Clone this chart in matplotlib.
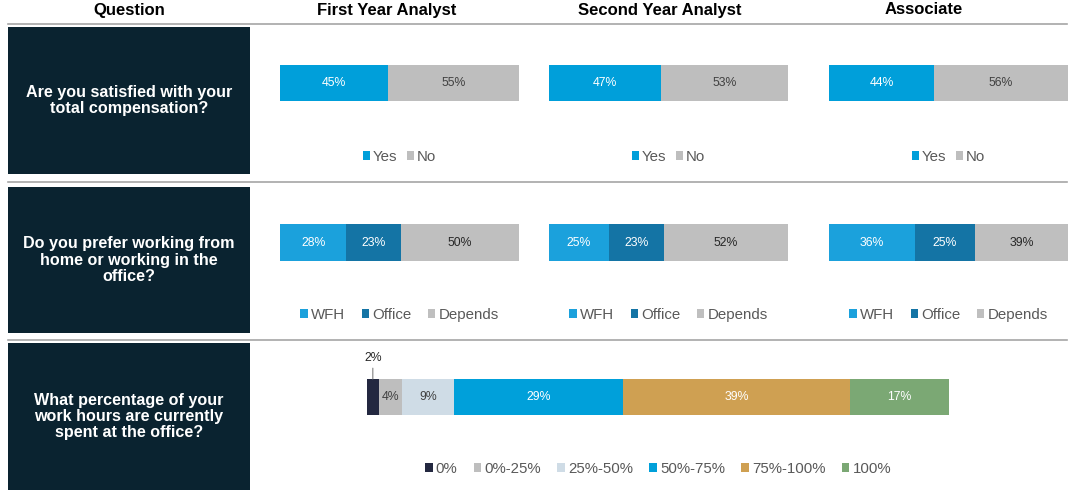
import matplotlib
matplotlib.use('Agg')
import matplotlib.pyplot as plt
from matplotlib.patches import Rectangle
from matplotlib.lines import Line2D

plt.rcParams['font.family'] = ['Liberation Sans', 'DejaVu Sans']

# data
groups = ['First Year Analyst', 'Second Year Analyst', 'Associate']
questions = ['Are you satisfied with your\ntotal compensation?',
             'Do you prefer working from\nhome or working in the\noffice?',
             'What percentage of your\nwork hours are currently\nspent at the office?']
comp_labels = ['Yes', 'No']
comp_values = [[45, 55], [47, 53], [44, 56]]
wfh_labels = ['WFH', 'Office', 'Depends']
wfh_values = [[28, 23, 50], [25, 23, 52], [36, 25, 39]]
hours_labels = ['0%', '0%-25%', '25%-50%', '50%-75%', '75%-100%', '100%']
hours_values = [2, 4, 9, 29, 39, 17]

comp_colors = ['#009FDA', '#BEBEBE']
wfh_colors = ['#1BA1DC', '#1474A5', '#BFBFBF']
hours_colors = ['#232840', '#BEBEBE', '#CFDCE6', '#00A0DA', '#CFA052', '#7BA874']
comp_text = ['white', '#404040']
wfh_text = ['white', 'white', '#262626']
hours_text = ['#404040', '#404040', '#404040', 'white', 'white', 'white']

W, H = 1071, 493
fig = plt.figure(figsize=(W / 100, H / 100), dpi=100)


def rect(x0, y0, x1, y1):
    return [x0 / W, 1 - y1 / H, (x1 - x0) / W, (y1 - y0) / H]


def fx(x):
    return x / W


def fy(y):
    return 1 - y / H


# header
fig.text(fx(129), fy(10), 'Question', ha='center', va='center', fontsize=12, fontweight='bold')
for name, cx in zip(groups, [387, 660, 924]):
    fig.text(fx(cx), fy(10), name, ha='center', va='center', fontsize=12, fontweight='bold')

# separator lines
for y in [24, 182, 340]:
    fig.add_artist(Line2D([fx(8), fx(1067)], [fy(y), fy(y)], color='#A6A6A6', lw=1.2))

# question boxes
boxes = [(27, 174), (187, 333), (343, 490)]
for (y0, y1), q in zip(boxes, questions):
    fig.add_artist(Rectangle((fx(8), fy(y1)), (250 - 8) / W, (y1 - y0) / H,
                             facecolor='#0A2330', edgecolor='none'))
    fig.text(fx(129), fy((y0 + y1) / 2), q, ha='center', va='center', color='white',
             fontsize=11.6, fontweight='bold', linespacing=1.12)


def stacked_bar(r, values, colors, tcolors, labels, leg_y, colspacing, skip_first=False):
    ax = fig.add_axes(rect(*r))
    left = 0
    handles = []
    for i, (v, c, tc) in enumerate(zip(values, colors, tcolors)):
        b = ax.barh(0, v, left=left, height=1, color=c, edgecolor='none')
        handles.append(b)
        if not (skip_first and i == 0):
            ax.text(left + v / 2, 0, f'{v}%', ha='center', va='center', color=tc, fontsize=8.8)
        left += v
    ax.set_xlim(0, sum(values))
    ax.set_ylim(-0.5, 0.5)
    ax.axis('off')
    cx = (r[0] + r[2]) / 2
    fig.legend(handles, labels, loc='center', bbox_to_anchor=(fx(cx), fy(leg_y)),
               ncol=len(labels), frameon=False, fontsize=10.8, labelcolor='#595959',
               handlelength=0.5, handleheight=0.5, handletextpad=0.2,
               columnspacing=colspacing, borderpad=0)
    return ax


cols = [(280, 519), (549, 788), (829, 1068)]
for (x0, x1), vals in zip(cols, comp_values):
    stacked_bar((x0, 65, x1, 101), vals, comp_colors, comp_text, comp_labels, 157, 0.6)
for (x0, x1), vals in zip(cols, wfh_values):
    stacked_bar((x0, 224, x1, 261), vals, wfh_colors, wfh_text, wfh_labels, 315, 1.1)

ax = stacked_bar((367, 379, 949, 415), hours_values, hours_colors, hours_text,
                 hours_labels, 469, 1.1, skip_first=True)
ax.annotate(f'{hours_values[0]}%', xy=(hours_values[0] / 2, 0.5), xycoords='data',
            xytext=(0, 21), textcoords='offset pixels', ha='center', va='center',
            fontsize=8.8, color='#262626',
            arrowprops=dict(arrowstyle='-', color='#808080', lw=0.8, shrinkA=1, shrinkB=0))

fig.savefig('out.png', dpi=100)
